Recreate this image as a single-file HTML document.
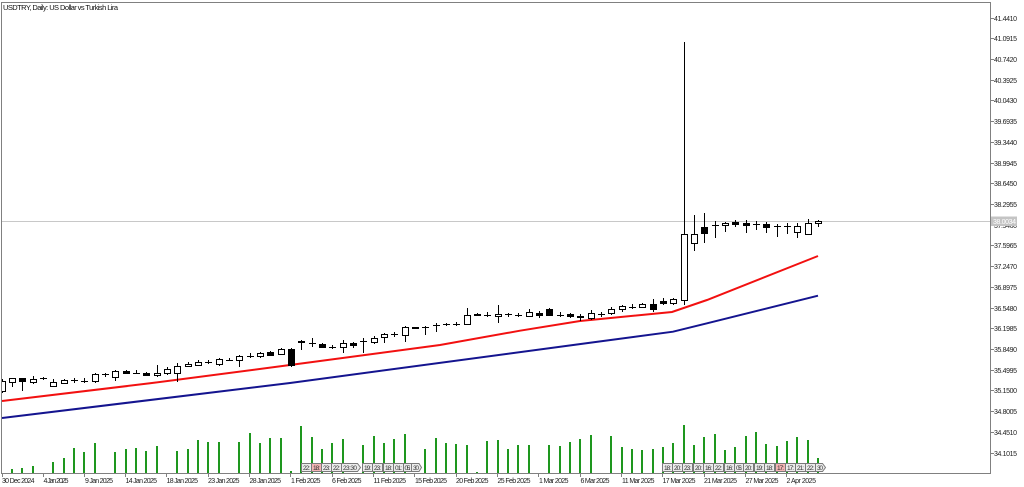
<!DOCTYPE html>
<html><head><meta charset="utf-8"><style>
html,body{margin:0;padding:0;background:#fff;width:1024px;height:487px;overflow:hidden}
svg{display:block}
text{font-family:"Liberation Sans",sans-serif}
</style></head><body>
<svg width="1024" height="487" viewBox="0 0 1024 487" xmlns="http://www.w3.org/2000/svg">
<rect width="1024" height="487" fill="#fff"/>
<defs><clipPath id="pc"><rect x="2" y="3" width="988" height="470"/></clipPath></defs>
<!-- price line -->
<path d="M2 221.5H990" stroke="#c8c8c8" stroke-width="1"/>
<g clip-path="url(#pc)">
<!-- volumes -->
<path stroke="#1e971e" stroke-width="2" fill="none" d="M12 469V473M22 468V473M33 466V473M53 462V473M64 458V473M74 448V473M84 452V473M95 443V473M115 452V473M126 449V473M136 448V473M146 451V473M157 446V473M177 451V473M188 449V473M198 440V473M208 442V473M219 442V473M239 442V473M250 433V473M260 443V473M270 438V473M281 438V473M291 471V473M301 426V473M312 437V473M322 449V473M332 443V473M343 439V473M363 445V473M374 436V473M384 443V473M394 439V473M405 434V473M425 449V473M436 438V473M446 443V473M456 444V473M467 445V473M477 472V473M487 441V473M498 440V473M508 449V473M518 445V473M529 445V473M549 445V473M560 446V473M570 442V473M580 439V473M591 435V473M611 436V473M622 447V473M632 449V473M642 450V473M653 449V473M663 447V473M673 443V473M684 425V473M694 445V473M704 437V473M715 434V473M725 450V473M735 447V473M746 436V473M756 432V473M766 444V473M777 446V473M787 441V473M797 437V473M808 440V473M818 458V473"/>
<!-- MAs -->
<path d="M2 418L290 383L590 342.7L673 331.7L707 323.3L818 295.7" stroke="#14148f" stroke-width="2" fill="none"/>
<path d="M2 401L150 383.3L290 365L440 345L520 330.7L580 321L672 312L707 300L818 256" stroke="#f21010" stroke-width="2" fill="none"/>
<!-- wicks -->
<path stroke="#000" stroke-width="1" fill="none" d="M2.5 379V393M12.5 378V387M22.5 378V391M33.5 376V384M43.5 377V380M53.5 379V386M64.5 379V384M74.5 378V383M84.5 378V383M95.5 373V383M105.5 373V377M115.5 370V381M126.5 370V373M136.5 370V374M146.5 372V376M157.5 365V377M167.5 367V375M177.5 363V382M188.5 362V367M198.5 360V366M208.5 360V364M219.5 358V366M229.5 358V361M239.5 355V367M250.5 353V358M260.5 352V358M270.5 351V356M281.5 348V355M291.5 348V367M301.5 340V350M312.5 338V347M322.5 343V348M332.5 345V349M343.5 340V353M353.5 342V348M363.5 338V353M374.5 336V344M384.5 333V343M394.5 332V337M405.5 326V342M415.5 327V329M425.5 326V335M436.5 323V332M446.5 323V326M456.5 322V326M467.5 308V325M477.5 313V316M487.5 312V317M498.5 305V323M508.5 313V317M518.5 313V317M529.5 309V317M539.5 311V318M549.5 308V316M560.5 312V317M570.5 313V318M580.5 314V321M591.5 310V320M601.5 312V317M611.5 307V315M622.5 305V312M632.5 304V309M642.5 303V308M653.5 299V312M663.5 298V305M673.5 298V305M684.5 42V305M694.5 215V251M704.5 213V243M715.5 221V238M725.5 222V232M735.5 220V227M746.5 220V233M756.5 221V230M766.5 222V233M777.5 224V237M787.5 223V234M797.5 223V238M808.5 219V235M818.5 220V227"/>
<!-- crosses -->
<path stroke="#000" stroke-width="1" fill="none" d="M40 378.5h7M71 380.5h7M81 381.5h7M102 374.5h7M133 373.5h7M205 362.5h7M226 360.5h7M247 356.5h7M309 343.5h7M329 347.5h7M360 341.5h7M391 334.5h7M412 327.5h7M412 328.5h7M422 327.5h7M433 325.5h7M443 324.5h7M453 324.5h7M474 314.5h7M474 315.5h7M484 315.5h7M505 314.5h7M515 315.5h7M557 315.5h7M598 314.5h7M629 307.5h7M712 225.5h7M753 224.5h7M774 226.5h7M784 226.5h7"/>
<!-- hollow bodies -->
<g fill="#fff" stroke="#000" stroke-width="1">
<rect x="-0.5" y="381.5" width="6" height="10"/>
<rect x="9.5" y="378.5" width="6" height="4"/>
<rect x="30.5" y="379.5" width="6" height="3"/>
<rect x="50.5" y="382.5" width="6" height="4"/>
<rect x="61.5" y="380.5" width="6" height="3"/>
<rect x="92.5" y="374.5" width="6" height="7"/>
<rect x="112.5" y="371.5" width="6" height="6"/>
<rect x="154.5" y="373.5" width="6" height="2"/>
<rect x="164.5" y="369.5" width="6" height="4"/>
<rect x="174.5" y="366.5" width="6" height="7"/>
<rect x="185.5" y="364.5" width="6" height="2"/>
<rect x="195.5" y="362.5" width="6" height="3"/>
<rect x="216.5" y="359.5" width="6" height="5"/>
<rect x="236.5" y="356.5" width="6" height="4"/>
<rect x="257.5" y="353.5" width="6" height="3"/>
<rect x="278.5" y="349.5" width="6" height="5"/>
<rect x="340.5" y="343.5" width="6" height="4"/>
<rect x="371.5" y="338.5" width="6" height="4"/>
<rect x="381.5" y="334.5" width="6" height="3"/>
<rect x="402.5" y="327.5" width="6" height="8"/>
<rect x="464.5" y="315.5" width="6" height="9"/>
<rect x="495.5" y="314.5" width="6" height="2"/>
<rect x="526.5" y="312.5" width="6" height="4"/>
<rect x="588.5" y="313.5" width="6" height="5"/>
<rect x="608.5" y="309.5" width="6" height="4"/>
<rect x="619.5" y="306.5" width="6" height="3"/>
<rect x="639.5" y="304.5" width="6" height="3"/>
<rect x="670.5" y="299.5" width="6" height="4"/>
<rect x="681.5" y="234.5" width="6" height="66"/>
<rect x="691.5" y="234.5" width="6" height="9"/>
<rect x="722.5" y="223.5" width="6" height="2"/>
<rect x="794.5" y="226.5" width="6" height="6"/>
<rect x="805.5" y="223.5" width="6" height="11"/>
<rect x="815.5" y="221.5" width="6" height="2"/>
</g>
<!-- filled bodies -->
<g fill="#000" stroke="#000" stroke-width="1">
<rect x="19.5" y="378.5" width="6" height="3"/>
<rect x="123.5" y="371.5" width="6" height="2"/>
<rect x="143.5" y="373.5" width="6" height="2"/>
<rect x="267.5" y="352.5" width="6" height="3"/>
<rect x="288.5" y="349.5" width="6" height="16"/>
<rect x="298.5" y="341.5" width="6" height="1"/>
<rect x="319.5" y="344.5" width="6" height="3"/>
<rect x="350.5" y="343.5" width="6" height="2"/>
<rect x="536.5" y="313.5" width="6" height="2"/>
<rect x="546.5" y="309.5" width="6" height="6"/>
<rect x="567.5" y="314.5" width="6" height="2"/>
<rect x="577.5" y="316.5" width="6" height="1"/>
<rect x="650.5" y="304.5" width="6" height="5"/>
<rect x="660.5" y="301.5" width="6" height="2"/>
<rect x="701.5" y="227.5" width="6" height="6"/>
<rect x="732.5" y="222.5" width="6" height="2"/>
<rect x="743.5" y="223.5" width="6" height="2"/>
<rect x="763.5" y="224.5" width="6" height="3"/>
</g>
<!-- session boxes -->
<g stroke="#7a7a7a" stroke-width="1" fill="#ececec">
<rect x="301.5" y="463.5" width="10" height="8"/>
<rect x="311.5" y="463.5" width="10" height="8" fill="#f4b4b4"/>
<rect x="321.5" y="463.5" width="10" height="8"/>
<rect x="331.5" y="463.5" width="10" height="8"/>
<path d="M341.5 463.5H357.5L360.5 467.5L357.5 471.5H341.5Z"/>
<rect x="362.5" y="463.5" width="10" height="8"/>
<rect x="372.5" y="463.5" width="10" height="8"/>
<rect x="383.5" y="463.5" width="10" height="8"/>
<rect x="393.5" y="463.5" width="10" height="8"/>
<rect x="403.5" y="463.5" width="8" height="8"/>
<path d="M411.5 463.5H419L421.5 467.5L419 471.5H411.5Z"/>
<rect x="662.5" y="463.5" width="10" height="8"/>
<rect x="672.5" y="463.5" width="10" height="8"/>
<rect x="682.5" y="463.5" width="10" height="8"/>
<rect x="693.5" y="463.5" width="10" height="8"/>
<rect x="703.5" y="463.5" width="10" height="8"/>
<rect x="713.5" y="463.5" width="10" height="8"/>
<rect x="724.5" y="463.5" width="10" height="8"/>
<rect x="734.5" y="463.5" width="9" height="8"/>
<rect x="743.5" y="463.5" width="10" height="8"/>
<rect x="754.5" y="463.5" width="10" height="8"/>
<rect x="764.5" y="463.5" width="10" height="8"/>
<rect x="775.5" y="463.5" width="10" height="8" fill="#f4b4b4"/>
<rect x="785.5" y="463.5" width="10" height="8"/>
<rect x="795.5" y="463.5" width="10" height="8"/>
<rect x="805.5" y="463.5" width="10" height="8"/>
<path d="M815.5 463.5H822.5L825.5 467.5L822.5 471.5H815.5Z"/>
</g>
<g font-size="6.5" fill="#333">
<text x="303" y="470" textLength="7">22:</text>
<text x="313" y="470" textLength="7">18:</text>
<text x="323" y="470" textLength="7">23:</text>
<text x="333" y="470" textLength="7">22:</text>
<text x="343" y="470" textLength="14">23:30</text>
<text x="364" y="470" textLength="7">19:</text>
<text x="374" y="470" textLength="7">23:</text>
<text x="385" y="470" textLength="7">18:</text>
<text x="395" y="470" textLength="7">01:</text>
<text x="404.5" y="470" textLength="6">05:</text>
<text x="413" y="470" textLength="6">30</text>
<text x="664" y="470" textLength="7">18:</text>
<text x="674" y="470" textLength="7">20:</text>
<text x="684" y="470" textLength="7">23:</text>
<text x="695" y="470" textLength="7">20:</text>
<text x="705" y="470" textLength="7">16:</text>
<text x="715" y="470" textLength="7">22:</text>
<text x="726" y="470" textLength="7">16:</text>
<text x="736" y="470" textLength="6">05:</text>
<text x="745" y="470" textLength="7">20:</text>
<text x="756" y="470" textLength="7">19:</text>
<text x="766" y="470" textLength="7">18:</text>
<text x="777" y="470" textLength="7">17:</text>
<text x="787" y="470" textLength="7">17:</text>
<text x="797" y="470" textLength="7">21:</text>
<text x="807" y="470" textLength="7">22:</text>
<text x="817" y="470" textLength="6">30</text>
</g>
</g>
<!-- frame -->
<path d="M1.5 2.5H990.5V473.5H1.5Z" fill="none" stroke="#808080" stroke-width="1"/>
<!-- right ticks -->
<path stroke="#808080" stroke-width="1" d="M990 18.5h4M990 38.5h4M990 59.5h4M990 80.5h4M990 100.5h4M990 121.5h4M990 142.5h4M990 163.5h4M990 183.5h4M990 204.5h4M990 225.5h4M990 245.5h4M990 266.5h4M990 287.5h4M990 308.5h4M990 328.5h4M990 349.5h4M990 370.5h4M990 390.5h4M990 411.5h4M990 432.5h4M990 453.5h4"/>
<g font-size="7" fill="#222">
<text x="994" y="21" textLength="23">41.4410</text>
<text x="994" y="41" textLength="23">41.0915</text>
<text x="994" y="62" textLength="23">40.7420</text>
<text x="994" y="83" textLength="23">40.3925</text>
<text x="994" y="103" textLength="23">40.0430</text>
<text x="994" y="124" textLength="23">39.6935</text>
<text x="994" y="145" textLength="23">39.3440</text>
<text x="994" y="166" textLength="23">38.9945</text>
<text x="994" y="186" textLength="23">38.6450</text>
<text x="994" y="207" textLength="23">38.2955</text>
<text x="994" y="228" textLength="23">37.9460</text>
<text x="994" y="248" textLength="23">37.5965</text>
<text x="994" y="269" textLength="23">37.2470</text>
<text x="994" y="290" textLength="23">36.8975</text>
<text x="994" y="311" textLength="23">36.5480</text>
<text x="994" y="331" textLength="23">36.1985</text>
<text x="994" y="352" textLength="23">35.8490</text>
<text x="994" y="373" textLength="23">35.4995</text>
<text x="994" y="393" textLength="23">35.1500</text>
<text x="994" y="414" textLength="23">34.8005</text>
<text x="994" y="435" textLength="23">34.4510</text>
<text x="994" y="456" textLength="23">34.1015</text>
</g>
<!-- current price label -->
<rect x="991" y="216.5" width="26" height="9.5" fill="#c4c4c4"/>
<text x="993" y="224" font-size="7" fill="#fff" textLength="23">38.0034</text>
<!-- bottom ticks -->
<path stroke="#808080" stroke-width="1" d="M2.5 473v4M43.5 473v4M84.5 473v4M125.5 473v4M166.5 473v4M208.5 473v4M249.5 473v4M290.5 473v4M332.5 473v4M373.5 473v4M414.5 473v4M456.5 473v4M497.5 473v4M538.5 473v4M580.5 473v4M621.5 473v4M662.5 473v4M704.5 473v4M745.5 473v4M786.5 473v4"/>
<g font-size="7" fill="#222">
<text x="2" y="483" textLength="32.5">30 Dec 2024</text>
<text x="43.5" y="483" textLength="25">4 Jan 2025</text>
<text x="85" y="483" textLength="28">9 Jan 2025</text>
<text x="125.5" y="483" textLength="31.5">14 Jan 2025</text>
<text x="166.5" y="483" textLength="31.5">18 Jan 2025</text>
<text x="208" y="483" textLength="31.5">23 Jan 2025</text>
<text x="249.5" y="483" textLength="31.5">28 Jan 2025</text>
<text x="291" y="483" textLength="29.5">1 Feb 2025</text>
<text x="332" y="483" textLength="29.5">6 Feb 2025</text>
<text x="373.5" y="483" textLength="32.5">11 Feb 2025</text>
<text x="415" y="483" textLength="32">15 Feb 2025</text>
<text x="456" y="483" textLength="32.5">20 Feb 2025</text>
<text x="497.5" y="483" textLength="33">25 Feb 2025</text>
<text x="539" y="483" textLength="29.5">1 Mar 2025</text>
<text x="580.5" y="483" textLength="29">6 Mar 2025</text>
<text x="622" y="483" textLength="32.5">11 Mar 2025</text>
<text x="662.5" y="483" textLength="33">17 Mar 2025</text>
<text x="704" y="483" textLength="33">21 Mar 2025</text>
<text x="745.5" y="483" textLength="33">27 Mar 2025</text>
<text x="786.5" y="483" textLength="29.5">2 Apr 2025</text>
</g>
<!-- title -->
<text x="3" y="10" font-size="7.5" fill="#111" textLength="115">USDTRY, Daily:  US Dollar vs Turkish Lira</text>
</svg>
</body></html>
